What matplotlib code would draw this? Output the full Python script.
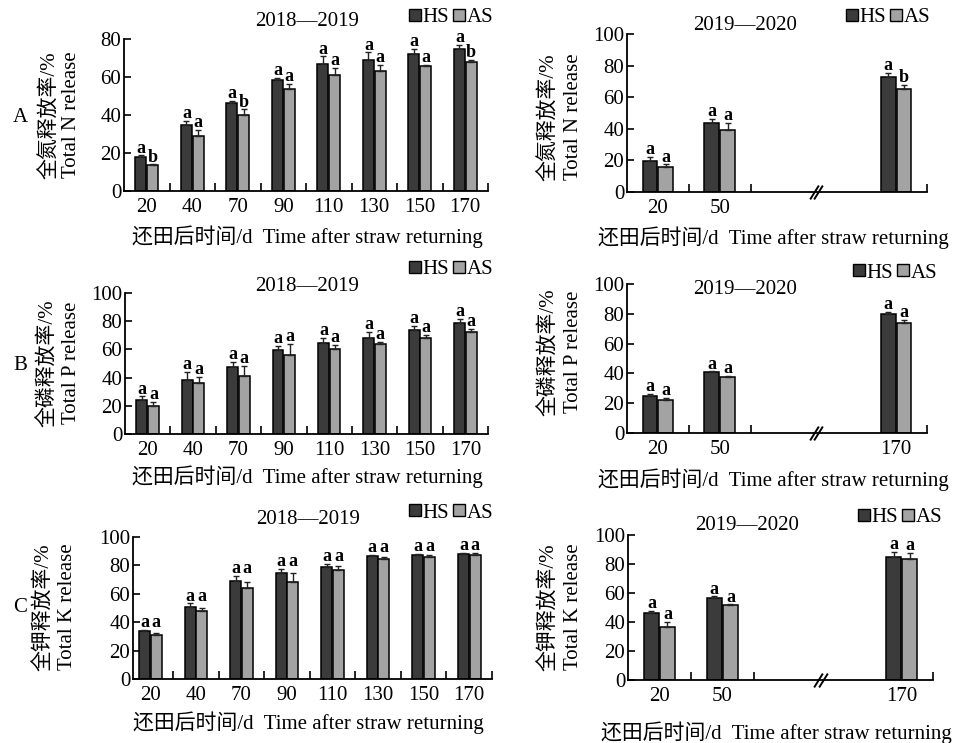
import numpy as np
import matplotlib
matplotlib.use("Agg")
import matplotlib.pyplot as plt
from matplotlib.patches import Patch

plt.rcParams["font.family"] = ["Liberation Serif", "Noto Sans CJK SC"]
plt.rcParams["axes.unicode_minus"] = False

W, H = 960, 743

# ---- data ----
days_1819 = ["20", "40", "70", "90", "110", "130", "150", "170"]
days_1920 = ["20", "50", "170"]
days_1920_n = ["20", "50", ""]          # 170 label missing in panel A right

# N release 2018-2019
n_hs_1819 = [17.8, 34.8, 46.2, 58.5, 67.0, 69.0, 72.2, 74.7]
n_as_1819 = [13.7, 29.0, 40.0, 53.6, 61.2, 63.0, 65.6, 68.0]
n_hs_err_1819 = [1.0, 2.3, 1.4, 1.2, 3.8, 4.0, 2.8, 2.0]
n_as_err_1819 = [0.3, 3.0, 3.0, 2.8, 3.5, 3.3, 0.9, 1.0]
n_hs_sig_1819 = ["a"] * 8
n_as_sig_1819 = ["b", "a", "b", "a", "a", "a", "a", "b"]

# N release 2019-2020
n_hs_1920 = [19.6, 43.7, 73.0]
n_as_1920 = [15.8, 39.2, 65.4]
n_hs_err_1920 = [2.5, 2.7, 2.3]
n_as_err_1920 = [1.7, 4.5, 2.3]
n_hs_sig_1920 = ["a", "a", "a"]
n_as_sig_1920 = ["a", "a", "b"]

# P release 2018-2019
p_hs_1819 = [23.8, 38.1, 47.8, 59.3, 64.7, 68.0, 73.6, 78.4]
p_as_1819 = [19.8, 36.0, 41.4, 55.8, 60.5, 64.0, 68.2, 72.2]
p_hs_err_1819 = [2.8, 6.0, 3.5, 3.3, 3.3, 4.2, 3.0, 3.0]
p_as_err_1819 = [3.2, 4.7, 7.0, 8.0, 2.6, 1.2, 2.1, 2.4]
p_hs_sig_1819 = ["a"] * 8
p_as_sig_1819 = ["a"] * 8

# P release 2019-2020
p_hs_1920 = [24.8, 40.7, 79.9]
p_as_1920 = [21.9, 37.6, 73.8]
p_hs_err_1920 = [1.3, 0.7, 1.5]
p_as_err_1920 = [1.8, 0.7, 2.0]
p_hs_sig_1920 = ["a", "a", "a"]
p_as_sig_1920 = ["a", "a", "a"]

# K release 2018-2019
k_hs_1819 = [33.9, 50.5, 68.9, 74.3, 78.7, 86.7, 87.6, 88.1]
k_as_1819 = [31.1, 48.1, 64.3, 68.5, 76.6, 84.3, 86.2, 87.1]
k_hs_err_1819 = [0.7, 2.8, 3.5, 3.5, 2.6, 0.5, 0.5, 0.5]
k_as_err_1819 = [1.1, 1.6, 4.2, 5.8, 2.8, 1.4, 1.0, 1.4]
k_hs_sig_1819 = ["a"] * 8
k_as_sig_1819 = ["a"] * 8

# K release 2019-2020
k_hs_1920 = [46.0, 56.8, 84.8]
k_as_1920 = [36.3, 51.7, 83.7]
k_hs_err_1920 = [1.6, 0.9, 3.5]
k_as_err_1920 = [3.9, 0.5, 4.1]
k_hs_sig_1920 = ["a", "a", "a"]
k_as_sig_1920 = ["a", "a", "a"]

HS_COLOR = "#3b3b3b"
AS_COLOR = "#a3a3a3"
XLABEL = "还田后时间/d  Time after straw returning"
FS = 15


def rect(x0, y0, x1, y1):
    return [x0 / W, 1 - y1 / H, (x1 - x0) / W, (y1 - y0) / H]


def ftext(fig, x, y, s, **kw):
    fig.text(x / W, 1 - y / H, s, **kw)


def draw_panel(fig, box, pos, bounds, xlim, labels, hs, as_, hs_err, as_err,
               hs_sig, as_sig, ymax, pair_letters=False, brk=None):
    ax = fig.add_axes(rect(*box))
    pos = np.asarray(pos)
    w, off = 0.24, 0.128
    ax.bar(pos - off, hs, w, color=HS_COLOR, edgecolor="black", linewidth=1.1, zorder=2)
    ax.bar(pos + off, as_, w, color=AS_COLOR, edgecolor="black", linewidth=1.1, zorder=2)
    zeros = np.zeros(len(pos))
    ax.errorbar(pos - off, hs, yerr=[zeros, hs_err], fmt="none", ecolor="#222222",
                elinewidth=1.0, capsize=2.5, capthick=1.0, zorder=3)
    ax.errorbar(pos + off, as_, yerr=[zeros, as_err], fmt="none", ecolor="#222222",
                elinewidth=1.0, capsize=2.5, capthick=1.0, zorder=3)

    top_hs = np.array(hs) + np.array(hs_err)
    top_as = np.array(as_) + np.array(as_err)
    if pair_letters:
        top_hs = top_as = np.maximum(top_hs, top_as)
    for i in range(len(pos)):
        ax.annotate(hs_sig[i], (pos[i] - off, top_hs[i]), xytext=(0, 2),
                    textcoords="offset points", ha="center", va="baseline",
                    fontsize=13, fontweight="bold", annotation_clip=False)
        ax.annotate(as_sig[i], (pos[i] + off, top_as[i]), xytext=(0, 2),
                    textcoords="offset points", ha="center", va="baseline",
                    fontsize=13, fontweight="bold", annotation_clip=False)

    ax.set_xlim(*xlim)
    ax.set_ylim(0, ymax)
    ax.set_yticks(np.arange(0, ymax + 1, 20))
    ax.set_xticks(pos)
    ax.set_xticklabels(labels)
    ax.set_xticks(bounds, minor=True)
    ax.tick_params(axis="x", which="major", length=0, pad=5, labelsize=FS)
    ax.tick_params(axis="x", which="minor", direction="in", length=6, width=1.2)
    ax.tick_params(axis="y", direction="in", length=5, width=1.2, pad=2, labelsize=FS)
    for side in ("top", "right"):
        ax.spines[side].set_visible(False)
    for side in ("left", "bottom"):
        ax.spines[side].set_linewidth(1.3)

    if brk is not None:
        for dx in (-0.035, 0.035):
            ax.plot([brk + dx], [0], marker=[(-1, -1.6), (1, 1.6)], markersize=10,
                    markeredgewidth=1.4, color="black", linestyle="none",
                    clip_on=False, zorder=4)

    handles = [Patch(facecolor=HS_COLOR, edgecolor="black", label="HS"),
               Patch(facecolor=AS_COLOR, edgecolor="black", label="AS")]
    return ax, handles


def add_legend(fig, ax, handles, x_right, y):
    ax.legend(handles=handles, ncol=2, loc="center right",
              bbox_to_anchor=(x_right / W, 1 - y / H), bbox_transform=fig.transFigure,
              frameon=False, fontsize=FS, handlelength=0.55, handleheight=0.55,
              handletextpad=0.08, columnspacing=0.2, borderpad=0, borderaxespad=0)


fig = plt.figure(figsize=(W / 100, H / 100), dpi=100)

left_pos = np.arange(8) + 0.5
left_bounds = np.arange(1, 9)
right_pos = [0.5, 1.5, 4.35]
right_bounds = [1, 2, 4.85]
right_xlim = (0, 4.85)
brk_x = 3.06

# ---- row A ----
ax, hd = draw_panel(fig, (124, 39, 488, 191), left_pos, left_bounds, (0, 8), days_1819,
                    n_hs_1819, n_as_1819, n_hs_err_1819, n_as_err_1819,
                    n_hs_sig_1819, n_as_sig_1819, 80)
add_legend(fig, ax, hd, 493, 18)
ftext(fig, 307, 22, "2018—2019", ha="center", va="center", fontsize=FS)
ftext(fig, 307, 237, XLABEL, ha="center", va="center", fontsize=FS)
ftext(fig, 50, 115, "全氮释放率/%", rotation=90, ha="center", va="center", fontsize=FS)
ftext(fig, 72, 115, "Total N release", rotation=90, ha="center", va="center", fontsize=FS)

ax, hd = draw_panel(fig, (627, 34, 927, 192), right_pos, right_bounds, right_xlim, days_1920_n,
                    n_hs_1920, n_as_1920, n_hs_err_1920, n_as_err_1920,
                    n_hs_sig_1920, n_as_sig_1920, 100, brk=brk_x)
add_legend(fig, ax, hd, 930, 18)
ftext(fig, 745, 25, "2019—2020", ha="center", va="center", fontsize=FS)
ftext(fig, 773, 238, XLABEL, ha="center", va="center", fontsize=FS)
ftext(fig, 549, 117, "全氮释放率/%", rotation=90, ha="center", va="center", fontsize=FS)
ftext(fig, 573, 117, "Total N release", rotation=90, ha="center", va="center", fontsize=FS)

# ---- row B ----
ax, hd = draw_panel(fig, (125, 293, 488, 434), left_pos, left_bounds, (0, 8), days_1819,
                    p_hs_1819, p_as_1819, p_hs_err_1819, p_as_err_1819,
                    p_hs_sig_1819, p_as_sig_1819, 100)
add_legend(fig, ax, hd, 493, 270)
ftext(fig, 307, 287, "2018—2019", ha="center", va="center", fontsize=FS)
ftext(fig, 307, 477, XLABEL, ha="center", va="center", fontsize=FS)
ftext(fig, 48, 363, "全磷释放率/%", rotation=90, ha="center", va="center", fontsize=FS)
ftext(fig, 71, 363, "Total P release", rotation=90, ha="center", va="center", fontsize=FS)

ax, hd = draw_panel(fig, (627, 284, 927, 433), right_pos, right_bounds, right_xlim, days_1920,
                    p_hs_1920, p_as_1920, p_hs_err_1920, p_as_err_1920,
                    p_hs_sig_1920, p_as_sig_1920, 100, brk=brk_x)
add_legend(fig, ax, hd, 937, 273)
ftext(fig, 745, 290, "2019—2020", ha="center", va="center", fontsize=FS)
ftext(fig, 773, 480, XLABEL, ha="center", va="center", fontsize=FS)
ftext(fig, 549, 352, "全磷释放率/%", rotation=90, ha="center", va="center", fontsize=FS)
ftext(fig, 573, 352, "Total P release", rotation=90, ha="center", va="center", fontsize=FS)

# ---- row C ----
ax, hd = draw_panel(fig, (133, 537, 492, 679), left_pos, left_bounds, (0.12, 8), days_1819,
                    k_hs_1819, k_as_1819, k_hs_err_1819, k_as_err_1819,
                    k_hs_sig_1819, k_as_sig_1819, 100, pair_letters=True)
add_legend(fig, ax, hd, 493, 513)
ftext(fig, 308, 519, "2018—2019", ha="center", va="center", fontsize=FS)
ftext(fig, 308, 723, XLABEL, ha="center", va="center", fontsize=FS)
ftext(fig, 44, 607, "全钾释放率/%", rotation=90, ha="center", va="center", fontsize=FS)
ftext(fig, 68, 607, "Total K release", rotation=90, ha="center", va="center", fontsize=FS)

ax, hd = draw_panel(fig, (628, 535, 933, 680), right_pos, right_bounds, right_xlim, days_1920,
                    k_hs_1920, k_as_1920, k_hs_err_1920, k_as_err_1920,
                    k_hs_sig_1920, k_as_sig_1920, 100, brk=brk_x)
add_legend(fig, ax, hd, 942, 518)
ftext(fig, 747, 525, "2019—2020", ha="center", va="center", fontsize=FS)
ftext(fig, 776, 733, XLABEL, ha="center", va="center", fontsize=FS)
ftext(fig, 549, 607, "全钾释放率/%", rotation=90, ha="center", va="center", fontsize=FS)
ftext(fig, 573, 607, "Total K release", rotation=90, ha="center", va="center", fontsize=FS)

# row labels
for lab, y in (("A", 117), ("B", 365), ("C", 608)):
    ftext(fig, 20, y, lab, ha="center", va="center", fontsize=FS)

fig.savefig("out.png", dpi=100)
